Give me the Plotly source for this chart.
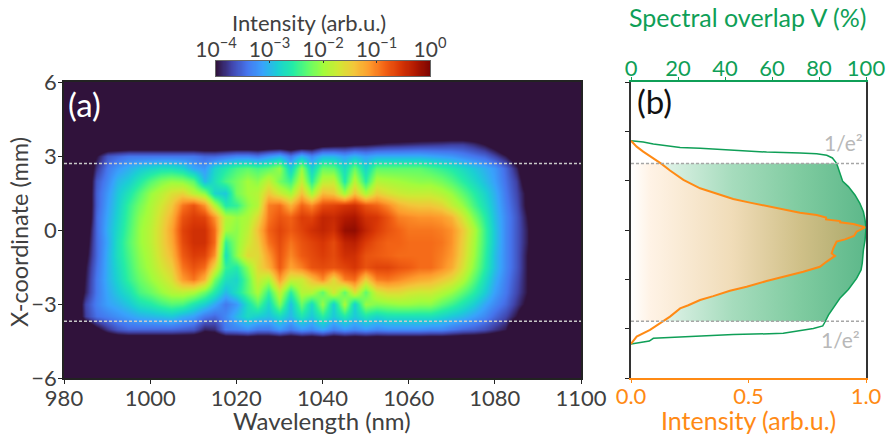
import numpy as np
import plotly.graph_objects as go

W, H = 887, 435
FONT = "Lato"
DARK = "#404040"
GREEN = "#0f9f57"
ORANGE = "#ff8a14"

wavelength = [982.5, 985, 987.5, 990, 992.5, 995, 997.5, 1000, 1002.5, 1005, 1007.5, 1010, 1012.5, 1015,
              1017.5, 1020, 1022.5, 1025, 1027.5, 1030, 1032.5, 1035, 1037.5, 1040, 1042.5, 1045, 1047.5, 1050, 1052.5, 1055,
              1057.5, 1060, 1062.5, 1065, 1067.5, 1070, 1072.5, 1075, 1077.5, 1080, 1082.5, 1085, 1087.5, 1090]
x_coord = [4.0, 3.5, 3.0, 2.5, 2.0, 1.5, 1.0, 0.5, 0.0, -0.5, -1.0, -1.5, -2.0, -2.5, -3.0, -3.5, -4.0, -4.5]

# log10(intensity), one row per x-coordinate
row_p40 = [-4.5] * 44
row_p35 = [-4.5, -4.5, -4.5, -4.5, -4.5, -4.5, -4.5, -4.5, -4.5, -4.5, -4.5, -4.5, -4.5, -4.5,
           -4.5, -4.5, -4.5, -4.5, -4.5, -4.5, -4.5, -4.5, -4.4, -4.2, -4.15, -4.1, -4.05, -4.0, -3.95, -3.9,
           -3.88, -3.85, -3.82, -3.8, -3.78, -3.75, -3.75, -3.85, -4.0, -4.2, -4.5, -4.5, -4.5, -4.5]
row_p30 = [-4.5, -4.5, -4.0, -3.6, -3.5, -3.4, -3.4, -3.4, -3.4, -3.4, -3.4, -3.4, -3.5, -3.5,
           -3.4, -3.3, -3.3, -3.4, -3.2, -3.05, -3.4, -3.0, -3.3, -3.0, -3.0, -3.15, -3.0, -3.15, -3.05, -3.05,
           -3.05, -3.05, -3.05, -3.1, -3.15, -3.2, -3.3, -3.4, -3.5, -3.7, -3.95, -4.3, -4.5, -4.5]
row_p25 = [-4.5, -4.5, -3.8, -3.4, -3.2, -3.05, -2.9, -2.8, -2.7, -2.7, -2.8, -3.1, -3.2, -2.8,
           -2.6, -2.4, -2.3, -2.4, -2.3, -2.05, -2.85, -2.05, -2.85, -2.25, -2.3, -2.75, -2.25, -2.8, -2.3, -2.3,
           -2.3, -2.3, -2.3, -2.4, -2.5, -2.6, -2.75, -2.9, -3.05, -3.2, -3.5, -3.9, -4.5, -4.5]
row_p20 = [-4.5, -4.5, -3.6, -3.3, -3.0, -2.85, -2.6, -2.35, -2.15, -2.05, -2.1, -2.3, -3.0, -2.7,
           -2.4, -2.2, -2.0, -2.1, -1.8, -2.2, -2.45, -1.8, -2.55, -1.85, -1.8, -2.6, -1.85, -2.55, -1.9, -1.95,
           -2.0, -2.05, -2.1, -2.1, -2.2, -2.35, -2.55, -2.75, -2.95, -3.15, -3.45, -3.75, -4.3, -4.5]
row_p15 = [-4.5, -4.5, -3.55, -3.2, -2.9, -2.65, -2.35, -2.05, -1.85, -1.65, -1.55, -1.85, -2.1, -2.8,
           -2.9, -2.2, -2.0, -1.9, -1.45, -1.75, -2.0, -1.4, -2.0, -1.35, -1.45, -2.0, -1.4, -1.95, -1.5, -1.65,
           -1.75, -1.8, -1.8, -1.8, -1.9, -2.05, -2.3, -2.55, -2.8, -3.05, -3.4, -3.7, -4.1, -4.5]
row_p10 = [-4.5, -4.5, -3.55, -3.15, -2.85, -2.5, -2.2, -1.95, -1.7, -1.45, -0.95, -0.75, -1.1, -1.9,
           -2.6, -2.5, -2.1, -1.9, -1.0, -0.9, -1.3, -0.85, -1.05, -0.7, -0.65, -0.55, -0.5, -0.75, -0.85, -1.05,
           -1.3, -1.4, -1.45, -1.45, -1.55, -1.8, -2.05, -2.4, -2.7, -3.0, -3.35, -3.65, -4.1, -4.5]
row_p05 = [-4.5, -4.5, -3.5, -3.1, -2.8, -2.45, -2.1, -1.9, -1.6, -1.3, -0.75, -0.6, -0.65, -1.1,
           -1.9, -2.05, -1.95, -1.6, -0.95, -0.75, -0.85, -0.6, -0.65, -0.4, -0.45, -0.3, -0.25, -0.5, -0.55, -0.75,
           -1.0, -1.05, -1.1, -1.1, -1.15, -1.3, -1.7, -2.15, -2.55, -2.95, -3.3, -3.6, -4.0, -4.5]
row_000 = [-4.5, -4.3, -3.5, -3.05, -2.75, -2.4, -2.05, -1.85, -1.55, -1.2, -0.65, -0.5, -0.5, -0.9,
           -2.0, -2.1, -1.85, -1.4, -0.85, -0.65, -0.8, -0.65, -0.5, -0.4, -0.5, -0.15, -0.12, -0.4, -0.6, -0.75,
           -0.85, -0.95, -0.95, -0.95, -1.0, -1.1, -1.45, -1.9, -2.45, -2.9, -3.3, -3.6, -3.95, -4.5]
row_m05 = [-4.5, -4.2, -3.5, -3.1, -2.7, -2.35, -2.05, -1.85, -1.55, -1.25, -0.7, -0.5, -0.5, -0.9,
           -2.5, -2.1, -1.75, -1.5, -0.95, -0.7, -0.95, -0.75, -0.65, -0.55, -0.7, -0.4, -0.35, -0.6, -0.75, -0.85,
           -0.85, -0.9, -0.9, -0.9, -0.95, -1.1, -1.5, -1.95, -2.45, -2.9, -3.3, -3.6, -3.95, -4.5]
row_m10 = [-4.5, -4.1, -3.5, -3.05, -2.7, -2.4, -2.1, -1.9, -1.6, -1.35, -0.8, -0.6, -0.65, -1.1,
           -2.7, -2.1, -1.6, -1.6, -1.15, -0.75, -1.05, -0.8, -0.7, -0.6, -0.7, -0.5, -0.5, -0.75, -0.8, -0.85,
           -0.9, -0.9, -0.9, -0.9, -1.0, -1.15, -1.55, -2.0, -2.5, -2.95, -3.3, -3.6, -4.0, -4.5]
row_m15 = [-4.5, -4.0, -3.45, -3.05, -2.75, -2.45, -2.15, -1.95, -1.7, -1.5, -0.95, -0.75, -0.9, -1.6,
           -2.5, -2.6, -2.1, -1.6, -1.3, -0.8, -1.2, -1.0, -0.75, -0.7, -0.75, -0.65, -0.55, -0.75, -0.65, -0.65,
           -0.75, -0.8, -0.9, -0.9, -1.05, -1.25, -1.65, -2.1, -2.55, -2.95, -3.3, -3.6, -4.0, -4.5]
row_m20 = [-4.5, -3.95, -3.4, -3.05, -2.8, -2.5, -2.25, -2.05, -1.85, -1.65, -1.15, -0.95, -1.3, -2.2,
           -2.7, -2.8, -2.3, -1.75, -1.95, -1.15, -1.75, -1.75, -1.4, -1.05, -1.6, -1.0, -0.9, -1.5, -1.0, -0.95,
           -1.05, -1.15, -1.25, -1.3, -1.45, -1.6, -1.9, -2.3, -2.7, -3.05, -3.35, -3.65, -4.0, -4.5]
row_m25 = [-4.5, -3.9, -3.4, -3.1, -2.9, -2.7, -2.4, -2.25, -2.05, -1.9, -1.85, -1.95, -2.25, -2.6,
           -3.0, -2.7, -2.3, -1.95, -2.5, -1.8, -2.55, -1.9, -1.9, -2.3, -1.7, -2.3, -1.65, -2.3, -1.75, -1.6,
           -1.6, -1.7, -1.75, -1.75, -1.9, -2.05, -2.3, -2.55, -2.85, -3.15, -3.4, -3.7, -4.0, -4.5]
row_m30 = [-4.5, -3.7, -3.35, -3.15, -3.05, -2.9, -2.7, -2.6, -2.45, -2.35, -2.4, -2.65, -2.85, -3.1,
           -3.4, -3.2, -2.7, -2.35, -2.8, -2.15, -2.95, -2.25, -2.75, -2.05, -2.85, -1.95, -2.85, -2.05, -2.15, -2.1,
           -2.05, -2.05, -2.1, -2.1, -2.3, -2.45, -2.65, -2.85, -3.1, -3.3, -3.5, -3.8, -4.1, -4.5]
row_m35 = [-4.5, -3.75, -3.45, -3.35, -3.25, -3.15, -3.05, -3.0, -2.95, -2.9, -3.05, -3.15, -3.4, -3.5,
           -3.3, -3.0, -2.75, -2.85, -2.95, -2.75, -3.0, -2.65, -2.9, -2.55, -2.9, -2.6, -2.9, -2.65, -2.8, -2.7,
           -2.7, -2.7, -2.7, -2.7, -2.8, -2.9, -3.0, -3.15, -3.3, -3.5, -3.7, -4.0, -4.5, -4.5]
row_m40 = [-4.5, -4.5, -4.1, -3.8, -3.6, -3.5, -3.5, -3.5, -3.5, -3.5, -3.55, -3.6, -3.9, -3.85,
           -3.4, -3.35, -3.25, -3.4, -3.4, -3.2, -3.4, -3.2, -3.3, -3.1, -3.35, -3.2, -3.3, -3.2, -3.3, -3.25,
           -3.25, -3.25, -3.25, -3.3, -3.3, -3.4, -3.5, -3.55, -3.65, -3.8, -3.95, -4.5, -4.5, -4.5]
row_m45 = [-4.5] * 44
log_intensity = [row_p40, row_p35, row_p30, row_p25, row_p20, row_p15, row_p10, row_p05, row_000,
                 row_m05, row_m10, row_m15, row_m20, row_m25, row_m30, row_m35, row_m40, row_m45]
assert all(len(r) == 44 for r in log_intensity)

cbar_levels = [-4, -3, -2, -1, 0]
cbar_ticktext = ["10<sup>−4</sup>", "10<sup>−3</sup>", "10<sup>−2</sup>", "10<sup>−1</sup>", "10<sup>0</sup>"]

# Panel (b) profiles
overlap_y = [3.62, 3.57, 3.49, 3.41, 3.34, 3.31, 3.24, 3.16, 3.12, 3.09, 3.03, 2.92, 2.70, 2.30, 1.97, 1.76, 1.42,
             1.08, 0.74, 0.41, 0.07, -0.41, -0.81, -1.35, -1.62, -1.96, -2.41, -2.77, -3.14, -3.45, -3.72, -3.89,
             -3.99, -4.09, -4.19, -4.24, -4.30, -4.39, -4.50, -4.62]
overlap_pct = [0, 5.2, 9.5, 16.6, 20.9, 29.4, 43.5, 57.7, 71.9, 79, 83.3, 85.7, 87.5, 88.9, 90.1, 92.5, 95.3,
               97.4, 98.9, 99.6, 100, 99.6, 98.9, 98.4, 97.9, 96, 92.5, 88.9, 86.1, 84, 82.6, 81.6,
               77.6, 71.9, 64.8, 43.5, 27.9, 9.5, 7.8, 0]
profile_y = [3.62, 3.38, 3.18, 2.91, 2.68, 2.41, 2.03, 1.69, 1.46, 1.26, 1.11, 0.97, 0.81, 0.70, 0.61, 0.51, 0.43,
             0.36, 0.31, 0.24, 0.11, -0.07, -0.24, -0.38, -0.47, -0.74, -0.95, -1.05, -1.28, -1.49, -1.69, -1.89,
             -2.07, -2.30, -2.46, -2.68, -2.84, -3.05, -3.18, -3.51, -3.78, -4.05, -4.32, -4.62]
profile_i = [0, 0.024, 0.052, 0.095, 0.130, 0.166, 0.223, 0.294, 0.365, 0.435, 0.506, 0.577, 0.663, 0.719, 0.790, 0.83, 0.83,
             0.89, 0.89, 0.946, 0.996, 0.96, 0.949, 0.911, 0.875, 0.861, 0.854, 0.868, 0.833, 0.804, 0.733, 0.648,
             0.577, 0.492, 0.421, 0.350, 0.294, 0.244, 0.209, 0.166, 0.123, 0.081, 0.024, 0]
dash_levels = [2.7, -3.7]


def clipped_fill(ys, xs):
    """Closed polygon of the area under a profile, between the two dashed levels."""
    ys, xs = np.array(ys), np.array(xs)
    top, bot = dash_levels
    keep = (ys < top) & (ys > bot)
    xt = np.interp(top, ys[::-1], xs[::-1])
    xb = np.interp(bot, ys[::-1], xs[::-1])
    fy = [top, top, *ys[keep], bot, bot]
    fx = [0, xt, *xs[keep], xb, 0]
    return fx, fy


def dom_x(a, b):
    return [a / W, b / W]


def dom_y(top, bottom):
    return [(H - bottom) / H, (H - top) / H]


def label(text, px, py, size, color, angle=0):
    return dict(text=text, xref="paper", yref="paper", x=px / W, y=(H - py) / H, xanchor="center", yanchor="middle",
                showarrow=False, textangle=angle, font=dict(family=FONT, size=size, color=color))


fig = go.Figure()
fig.add_trace(go.Heatmap(
    x=wavelength, y=x_coord, z=log_intensity, zmin=-4, zmax=0, zsmooth="best",
    colorscale="Turbo", hoverinfo="skip", showscale=False,
))

# Colour key with its ticks on top: a strip on its own axis
strip = np.arange(-4, 0.001, 0.02)
fig.add_trace(go.Heatmap(
    x=strip, y=[0, 1], z=[strip, strip], zmin=-4, zmax=0, zsmooth="best",
    colorscale="Turbo", hoverinfo="skip", showscale=False, xaxis="x4", yaxis="y4",
))

gx, gy = clipped_fill(overlap_y, overlap_pct)
fig.add_trace(go.Scatter(
    x=gx, y=gy, xaxis="x2", yaxis="y2", mode="none", fill="toself", hoverinfo="skip",
    fillgradient=dict(type="horizontal", start=0, stop=100, colorscale=[
        [0, "#ffffff"], [0.22, "#d0ecdc"], [0.43, "#a6dcbd"], [0.72, "#7fcba0"], [1, "#5db88a"]]),
))
fig.add_trace(go.Scatter(x=overlap_pct, y=overlap_y, xaxis="x2", yaxis="y2", mode="lines",
                         line=dict(color=GREEN, width=1.5), hoverinfo="skip"))
ox, oy = clipped_fill(profile_y, profile_i)
fig.add_trace(go.Scatter(
    x=ox, y=oy, xaxis="x3", yaxis="y2", mode="none", fill="toself", hoverinfo="skip",
    fillgradient=dict(type="horizontal", start=0, stop=1, colorscale=[
        [0, "#ffffff"], [0.08, "#fff3e6"], [0.43, "#f0dcb8"], [0.72, "#cfc088"], [1, "#a9a86a"]]),
))
fig.add_trace(go.Scatter(x=profile_i, y=profile_y, xaxis="x3", yaxis="y2", mode="lines",
                         line=dict(color=ORANGE, width=2), hoverinfo="skip"))

for lvl in dash_levels:
    fig.add_shape(type="line", xref="x", yref="y", x0=980, x1=1100, y0=lvl, y1=lvl,
                  line=dict(color="#c9c9c9", width=1.5, dash="3px,2px"))
    fig.add_shape(type="line", xref="x2", yref="y2", x0=0, x1=100, y0=lvl, y1=lvl,
                  line=dict(color="#a6a6a6", width=1.5, dash="3px,2px"))

tick = dict(family=FONT, size=22, color=DARK)
fig.update_layout(
    width=W, height=H, showlegend=False,
    margin=dict(l=0, r=0, t=0, b=0, autoexpand=False),
    paper_bgcolor="white", plot_bgcolor="rgba(0,0,0,0)",
    xaxis=dict(domain=dom_x(64, 581), range=[980, 1100], tickvals=[980, 1000, 1020, 1040, 1060, 1080, 1100],
               ticks="outside", ticklen=4, tickcolor="#222222", tickfont=tick, showgrid=False, zeroline=False,
               showline=True, linecolor="#222222", linewidth=1.5, mirror=True, anchor="y", ticklabelstandoff=-4),
    yaxis=dict(domain=dom_y(82, 378), range=[-6, 6], tickvals=[-6, -3, 0, 3, 6],
               ticks="outside", ticklen=4, tickcolor="#222222", tickfont=tick, showgrid=False, zeroline=False,
               showline=True, linecolor="#222222", linewidth=1.5, mirror=True, anchor="x", ticklabelstandoff=-3),
    xaxis2=dict(domain=dom_x(631, 866), range=[0, 100], side="top", anchor="y2", tickvals=[0, 20, 40, 60, 80, 100],
                ticks="outside", ticklen=3, tickcolor=GREEN, tickfont=dict(family=FONT, size=22, color=GREEN),
                showgrid=False, zeroline=False, showline=True, linecolor=GREEN, linewidth=1.5, ticklabelstandoff=-8),
    xaxis3=dict(domain=dom_x(631, 866), range=[0, 1], side="bottom", anchor="y2", overlaying="x2",
                tickmode="array", tickvals=[0, 0.5, 1], ticktext=["0.0", "0.5", "1.0"],
                ticks="outside", ticklen=3, tickcolor=ORANGE, tickfont=dict(family=FONT, size=22, color=ORANGE),
                showgrid=False, zeroline=False, showline=True, linecolor=ORANGE, linewidth=1.5, ticklabelstandoff=-5),
    yaxis2=dict(domain=dom_y(82, 378), range=[-6, 6], anchor="x2", tickvals=[-6, -4, -2, 0, 2, 4, 6],
                showticklabels=False, ticks="outside", ticklen=4, tickcolor="#222222", showgrid=False, zeroline=False,
                showline=True, linecolor="#333333", linewidth=2, mirror=True),
    xaxis4=dict(domain=dom_x(216, 430), range=[-4, 0], side="top", anchor="y4", tickmode="array",
                tickvals=cbar_levels, ticktext=cbar_ticktext, ticks="inside", ticklen=2, tickcolor="#333333",
                tickfont=dict(family=FONT, size=21, color=DARK), showgrid=False, zeroline=False,
                showline=True, linecolor="#666666", linewidth=1, mirror=True, ticklabelstandoff=-5),
    yaxis4=dict(domain=dom_y(61, 76), range=[0, 1], anchor="x4", showticklabels=False, ticks="", showgrid=False,
                zeroline=False, showline=True, linecolor="#666666", linewidth=1, mirror=True),
    annotations=[
        label("Wavelength (nm)", 322, 420, 24, DARK),
        label("X-coordinate (mm)", 19, 232, 23.5, DARK, angle=-90),
        label("Spectral overlap V (%)", 747, 17, 25, GREEN),
        label("Intensity (arb.u.)", 748, 420, 25, ORANGE),
        label("Intensity (arb.u.)", 309, 23, 22, DARK),
        label("(a)", 84, 104, 33, "white"),
        label("(b)", 654, 101, 33, "#111111"),
        label("1/e²", 843, 142, 21, "#b8b8b8"),
        label("1/e²", 840, 339, 21, "#b8b8b8"),
    ],
)
# Dark field behind the heatmap, in the lowest colour of the scale
fig.add_shape(type="rect", xref="x domain", yref="y domain", x0=0, x1=1, y0=0, y1=1,
              fillcolor="#30123b", line_width=0, layer="below")
fig.write_html("out.html", post_script="document.body.style.margin='0';", config={"displayModeBar": False})
